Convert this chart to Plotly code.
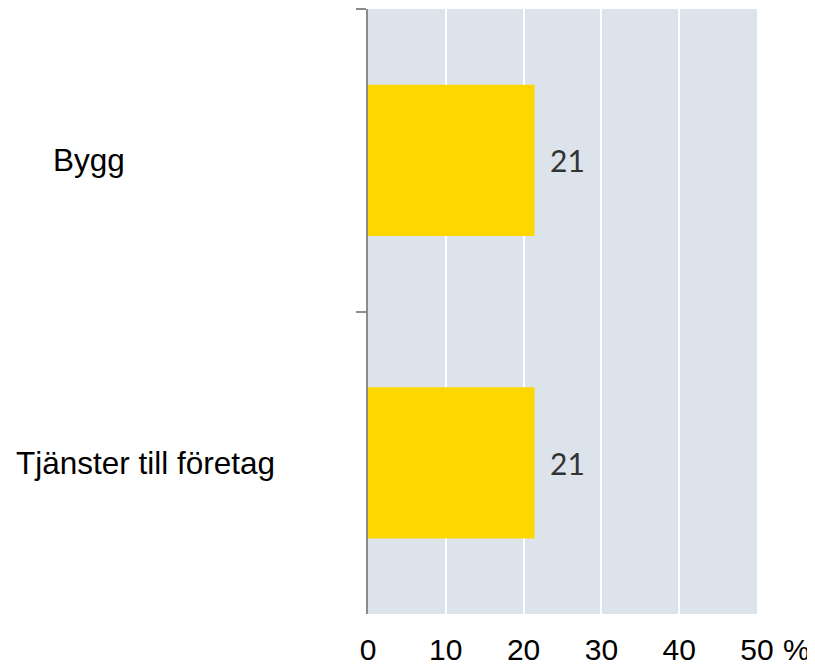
import plotly.graph_objects as go

categories = ["Bygg", "Tjänster till företag"]
values = [21.4, 21.4]
value_labels = ["21", "21"]
tick_vals = [0, 10, 20, 30, 40, 50]
tick_text = ["0", "10", "20", "30", "40", "50"]
label_x_px = [80.5, 137.5]  # centre of category label in pixels (figure coords)

W, H = 807, 659
L, R, T, B = 360, 58, 1, 53
pw = W - L - R

fig = go.Figure()
fig.add_trace(go.Bar(
    x=values, y=categories, orientation="h",
    marker=dict(color="#FFD700", line=dict(width=0)),
    width=0.5, hoverinfo="none",
))

for c, v, t in zip(categories, values, value_labels):
    fig.add_annotation(x=v, y=c, xref="x", yref="y", text=t, showarrow=False,
                       xanchor="left", yanchor="middle", xshift=14,
                       font=dict(family="Lato, Gill Sans, sans-serif", size=30, color="#333333"))

for c, px in zip(categories, label_x_px):
    fig.add_annotation(x=(px - L) / pw, y=c, xref="paper", yref="y", text=c,
                       showarrow=False, xanchor="center", yanchor="middle",
                       font=dict(family="Liberation Sans, Arial, sans-serif", size=31.5, color="#000000"))

fig.add_annotation(x=(788 - L) / pw, y=0, xref="paper", yref="paper", text="%",
                   showarrow=False, xanchor="center", yanchor="top", yshift=-17,
                   font=dict(family="Liberation Sans, Arial, sans-serif", size=30, color="#000000"))

fig.update_layout(
    width=W, height=H,
    margin=dict(l=L, r=R, t=T, b=B, pad=0),
    paper_bgcolor="white", plot_bgcolor="#DCE3EA",
    showlegend=False,
    xaxis=dict(range=[0, 50], tickvals=tick_vals, ticktext=tick_text,
               showgrid=True, gridcolor="white", gridwidth=2,
               zeroline=False, showline=False, ticks="",
               ticklabelstandoff=15,
               tickfont=dict(family="Liberation Sans, Arial, sans-serif", size=30, color="#000000")),
    yaxis=dict(categoryorder="array", categoryarray=categories, autorange="reversed",
               showticklabels=False, showgrid=False, zeroline=False,
               showline=True, linecolor="#8C8C8C", linewidth=2,
               ticks="outside", tickson="boundaries", ticklen=10,
               tickcolor="#8C8C8C", tickwidth=2),
)

fig.write_html("out.html")
